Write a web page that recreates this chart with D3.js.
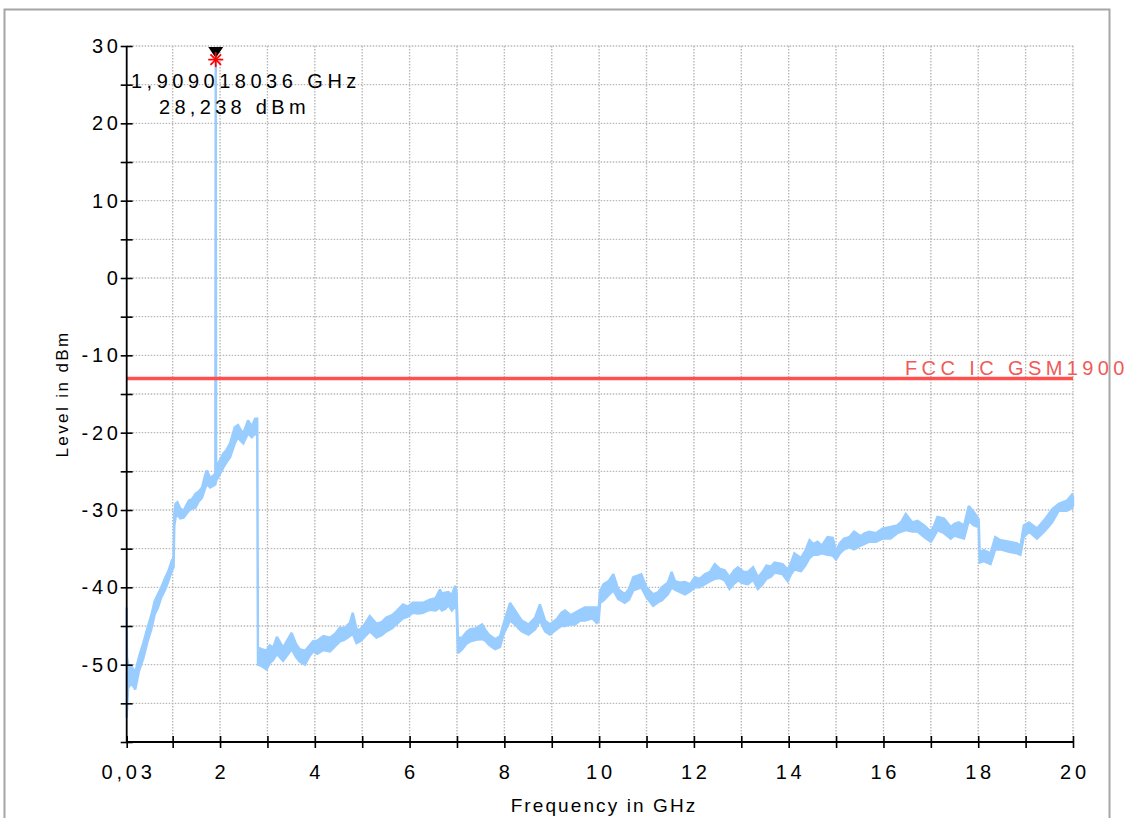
<!DOCTYPE html>
<html><head><meta charset="utf-8">
<script src="https://cdn.jsdelivr.net/npm/d3@7/dist/d3.min.js"></script>
<style>
body{margin:0;background:#fff}
svg{display:block}
text{font-family:"Liberation Sans",Arial,sans-serif;fill:#000}
</style>
</head><body>
<svg id="c" width="1128" height="818"></svg>
<script>
// ---------- data ----------
const freqGHz = [
 0.03,0.036,0.06,0.13,0.21,0.29,0.38,0.47,0.55,0.62,0.69,0.76,0.84,0.91,0.98,1.02,1.035,1.06,1.10,1.16,1.23,
 1.34,1.41,1.48,1.55,1.62,1.68,1.72,1.79,1.85,1.90,1.909,1.918,1.96,2.07,2.14,2.21,2.31,2.38,2.43,2.49,
 2.59,2.67,2.74,2.785,2.80,2.88,2.98,3.05,3.12,3.20,3.33,3.51,3.60,3.68,3.79,3.88,3.96,4.05,4.18,4.32,
 4.43,4.53,4.62,4.74,4.80,4.88,4.95,5.05,5.16,5.30,5.41,5.51,5.63,5.72,5.86,5.96,6.07,6.18,6.28,6.43,
 6.55,6.64,6.68,6.75,6.82,6.89,6.96,6.99,7.02,7.11,7.20,7.28,7.40,7.53,7.60,7.67,7.76,7.81,7.91,7.98,
 8.05,8.12,8.23,8.30,8.37,8.51,8.65,8.75,8.86,8.96,9.11,9.20,9.28,9.40,9.49,9.60,9.70,9.85,9.95,9.99,
 10.02,10.09,10.20,10.30,10.40,10.54,10.63,10.72,10.89,11.00,11.14,11.25,11.32,11.45,11.53,11.60,11.70,11.81,11.92,12.02,
 12.12,12.23,12.34,12.44,12.55,12.65,12.75,12.85,12.93,13.05,13.14,13.25,13.35,13.45,13.53,13.63,13.70,13.87,13.98,14.05,
 14.12,14.26,14.35,14.44,14.52,14.61,14.70,14.82,14.93,15.00,15.08,15.17,15.28,15.38,15.52,15.60,15.70,15.84,15.98,16.15,
 16.29,16.38,16.47,16.61,16.72,16.86,17.00,17.07,17.14,17.28,17.42,17.50,17.59,17.70,17.80,17.91,18.01,18.03,18.12,18.26,
 18.36,18.47,18.65,18.82,18.89,18.96,19.07,19.24,19.42,19.56,19.70,19.87,19.98,20.00
];
const levelMax = [
 -42.6,-49.0,-50.0,-50.2,-51.0,-49.0,-47.2,-45.2,-43.6,-41.8,-40.9,-40.0,-38.8,-37.9,-36.6,-36.1,-30.5,-29.2,-29.0,-29.8,-30.1,
 -28.8,-28.6,-27.9,-27.6,-27.1,-25.6,-24.9,-25.8,-25.6,-25.3,28.238,-25.0,-24.0,-22.7,-22.2,-21.4,-19.3,-19.0,-19.6,-20.1,
 -18.4,-19.2,-18.2,-18.2,-47.8,-48.0,-48.2,-47.5,-47.8,-46.4,-47.8,-45.9,-47.3,-48.0,-48.2,-47.6,-47.0,-46.9,-46.3,-46.5,
 -46.0,-45.2,-45.3,-44.6,-43.3,-45.4,-45.5,-44.8,-43.7,-44.7,-44.5,-43.9,-43.6,-43.1,-42.2,-42.5,-42.0,-42.0,-42.0,-41.6,
 -41.4,-40.3,-40.8,-40.7,-40.6,-41.0,-39.8,-40.5,-46.5,-46.5,-45.8,-45.4,-45.3,-44.8,-45.5,-46.1,-46.5,-46.7,-46.3,-44.8,
 -43.4,-42.0,-43.0,-43.7,-44.3,-44.8,-43.9,-42.2,-44.3,-44.8,-44.1,-43.3,-43.0,-43.6,-43.3,-42.9,-42.6,-42.6,-42.6,-42.7,
 -40.5,-39.6,-39.2,-38.3,-40.2,-40.9,-40.2,-38.7,-38.3,-40.0,-40.9,-40.6,-40.0,-39.4,-38.0,-39.2,-39.4,-39.3,-39.6,-38.7,
 -38.9,-38.3,-38.0,-37.0,-37.6,-37.8,-38.7,-37.8,-37.4,-38.0,-38.0,-37.4,-38.7,-38.0,-37.2,-37.3,-36.8,-37.0,-37.7,-36.8,
 -35.6,-36.2,-35.3,-33.9,-34.4,-34.1,-34.6,-33.5,-33.6,-35.3,-34.3,-33.7,-33.5,-32.8,-33.4,-33.0,-32.8,-33.0,-32.4,-32.2,
 -32.0,-31.5,-30.5,-31.6,-31.4,-32.0,-32.8,-32.0,-30.9,-31.1,-32.2,-31.8,-31.6,-32.0,-29.5,-30.3,-31.2,-35.4,-35.2,-35.6,
 -33.5,-33.9,-34.1,-34.3,-34.7,-32.0,-31.6,-32.4,-31.1,-29.9,-29.2,-28.8,-28.0,-28.3
];
const levelMin = [
 -56.9,-56.0,-53.0,-52.4,-53.2,-50.8,-49.2,-47.0,-45.4,-43.5,-42.6,-41.3,-40.3,-39.2,-37.9,-37.4,-32.0,-31.0,-30.6,-31.1,-31.0,
 -30.1,-29.8,-29.7,-28.9,-28.4,-27.3,-26.6,-27.1,-26.9,-26.7,-26.5,-26.2,-25.8,-24.5,-23.8,-23.2,-21.4,-20.6,-21.0,-21.4,
 -20.1,-20.6,-20.1,-20.4,-50.0,-50.2,-50.6,-49.8,-49.4,-48.6,-49.5,-48.0,-49.0,-49.6,-50.0,-49.0,-48.3,-48.6,-48.1,-48.3,
 -47.6,-47.0,-46.8,-46.3,-46.0,-47.2,-47.0,-46.4,-45.7,-46.5,-46.2,-45.7,-45.3,-44.8,-44.0,-43.8,-43.3,-43.4,-43.3,-42.9,
 -43.0,-42.6,-43.0,-42.8,-42.3,-43.0,-42.5,-42.8,-48.5,-48.0,-47.3,-47.0,-46.8,-46.7,-46.9,-47.4,-47.8,-48.0,-47.7,-46.1,
 -45.2,-44.3,-44.8,-45.3,-45.7,-46.1,-45.4,-44.3,-45.7,-46.1,-45.4,-45.0,-45.0,-44.8,-44.8,-44.3,-44.3,-44.0,-44.6,-44.3,
 -42.0,-41.7,-41.0,-40.4,-41.5,-42.0,-41.6,-40.4,-40.0,-41.3,-42.4,-41.9,-41.7,-40.9,-40.0,-40.3,-40.6,-40.9,-40.5,-40.0,
 -40.0,-39.6,-39.2,-38.9,-38.8,-39.1,-40.2,-39.5,-39.1,-39.5,-39.6,-39.0,-40.2,-39.6,-38.9,-38.6,-38.1,-38.3,-39.2,-38.3,
 -37.7,-37.9,-37.2,-36.2,-35.8,-35.8,-35.6,-35.8,-35.9,-36.4,-35.6,-35.1,-34.8,-35.1,-34.6,-34.4,-34.1,-34.1,-33.7,-33.7,
 -33.0,-32.8,-32.6,-32.8,-32.8,-33.5,-34.1,-33.4,-32.6,-33.0,-33.7,-33.3,-33.5,-33.7,-31.4,-32.0,-32.2,-36.8,-36.6,-37.0,
 -35.1,-35.1,-35.4,-35.6,-35.8,-33.5,-32.8,-33.7,-32.6,-31.6,-30.1,-30.1,-29.7,-29.5
];
const xTickValues = [0.03,1,2,3,4,5,6,7,8,9,10,11,12,13,14,15,16,17,18,19,20];
const xLabelValues = [0.03,2,4,6,8,10,12,14,16,18,20];
const xLabelTexts  = ["0,03","2","4","6","8","10","12","14","16","18","20"];
const xGridValues  = [1,2,3,4,5,6,7,8,9,10,11,12,13,14,15,16,17,18,19,20];
const yTickValues  = [-60,-55,-50,-45,-40,-35,-30,-25,-20,-15,-10,-5,0,5,10,15,20,25,30];
const yLabelValues = [-50,-40,-30,-20,-10,0,10,20,30];
const yLabelTexts  = ["-50","-40","-30","-20","-10","0","10","20","30"];
const yGridValues  = [-55,-50,-45,-40,-35,-30,-25,-20,-15,-10,-5,0,5,10,15,20,25,30];
const limitLevel = -13;
const limitName = "FCC IC GSM1900";
const markerFreq = 1.909018036;
const markerLevel = 28.238;
const markerLines = ["1,909018036 GHz","28,238 dBm"];
const xTitle = "Frequency in GHz";
const yTitle = "Level in dBm";

// ---------- drawing ----------
const svg = d3.select("#c");
const x = d3.scaleLinear().domain([0.03,20]).range([126.7,1073]);
const y = d3.scaleLinear().domain([-60,30]).range([742,46]);

// outer frame
svg.append("rect").attr("x",4.5).attr("y",9.5).attr("width",1105).attr("height",860)
  .attr("fill","none").attr("stroke","#a6a6a6").attr("stroke-width",2);

// grid
const grid = svg.append("g").attr("stroke","#b8b8b8").attr("stroke-width",1.4).attr("stroke-dasharray","1.5 1.5");
grid.selectAll("line.v").data(xGridValues).join("line")
  .attr("x1",d=>x(d)).attr("x2",d=>x(d)).attr("y1",y(30)).attr("y2",y(-60));
grid.selectAll("line.h").data(yGridValues).join("line").attr("class","h")
  .attr("x1",x(0.03)).attr("x2",x(20)).attr("y1",d=>y(d)).attr("y2",d=>y(d));

// trace
const pts = freqGHz.map((f,i)=>({f, hi:levelMax[i], lo:levelMin[i]}));
const area = d3.area().x(d=>x(d.f)).y0(d=>y(d.lo)).y1(d=>y(d.hi));
svg.append("path").datum(pts).attr("d",area)
  .attr("fill","#99ccff").attr("stroke","#99ccff").attr("stroke-width",2.4).attr("stroke-linejoin","miter").attr("stroke-miterlimit",2);

// limit line
svg.append("line").attr("x1",x(0.03)).attr("x2",x(20)).attr("y1",y(limitLevel)).attr("y2",y(limitLevel))
  .attr("stroke","#ff4f4f").attr("stroke-width",3.5);
svg.append("text").attr("x",905).attr("y",y(limitLevel)-4).text(limitName)
  .style("font-size","20px").style("letter-spacing","4.4px").style("fill","#f05a5a");

// axes
const fs = "20px";
const yAxis = d3.axisLeft(y).tickValues(yTickValues).tickSize(6).tickSizeOuter(0).tickFormat("");
const gy = svg.append("g").attr("transform",`translate(${x(0.03)},0)`).call(yAxis);
gy.selectAll(".tick line").attr("x1",6).attr("stroke","#000").attr("stroke-width",1.6);
gy.select(".domain").attr("stroke","#000").attr("stroke-width",1.8).attr("d",`M0,${y(30)}V${y(-60)}`);
const xAxis = d3.axisBottom(x).tickValues(xTickValues).tickSize(6).tickSizeOuter(0).tickFormat("");
const gx = svg.append("g").attr("transform",`translate(0,${y(-60)})`).call(xAxis);
gx.selectAll(".tick line").attr("y1",-6).attr("stroke","#000").attr("stroke-width",1.6);
gx.select(".domain").attr("stroke","#000").attr("stroke-width",1.8).attr("d",`M${x(0.03)},0H${x(20)}`);

// tick labels
svg.append("g").selectAll("text").data(yLabelValues).join("text")
  .attr("x",118+3.8).attr("y",d=>y(d)+7).attr("text-anchor","end")
  .style("font-size",fs).style("letter-spacing","3.8px")
  .text((d,i)=>yLabelTexts[i]);
svg.append("g").selectAll("text").data(xLabelValues).join("text")
  .attr("x",d=>x(d)+1.9).attr("y",779).attr("text-anchor","middle")
  .style("font-size",fs).style("letter-spacing","3.8px")
  .text((d,i)=>xLabelTexts[i]);

// axis titles
svg.append("text").attr("x",604).attr("y",812).attr("text-anchor","middle")
  .style("font-size","19px").style("letter-spacing","2.1px").text(xTitle);
svg.append("text").attr("transform","translate(68,394) rotate(-90)").attr("text-anchor","middle")
  .style("font-size","17px").style("letter-spacing","2.4px").text(yTitle);

// marker
const mx = x(markerFreq), my = y(markerLevel);
svg.append("path").attr("d",`M${mx-7.5},${y(30)+1}L${mx+7.5},${y(30)+1}L${mx},${y(30)+12}Z`).attr("fill","#000");
const star = svg.append("g").attr("stroke","#ff0000").attr("stroke-width",1.7);
[0,45,90,135].forEach(a=>{
  const r=7.5, t=a*Math.PI/180;
  star.append("line").attr("x1",mx-r*Math.cos(t)).attr("y1",my-r*Math.sin(t))
    .attr("x2",mx+r*Math.cos(t)).attr("y2",my+r*Math.sin(t));
});
svg.append("text").attr("x",131).attr("y",88).style("font-size",fs).style("letter-spacing","4.5px").text(markerLines[0]);
svg.append("text").attr("x",159).attr("y",114).style("font-size",fs).style("letter-spacing","4.3px").text(markerLines[1]);
</script>
</body></html>
